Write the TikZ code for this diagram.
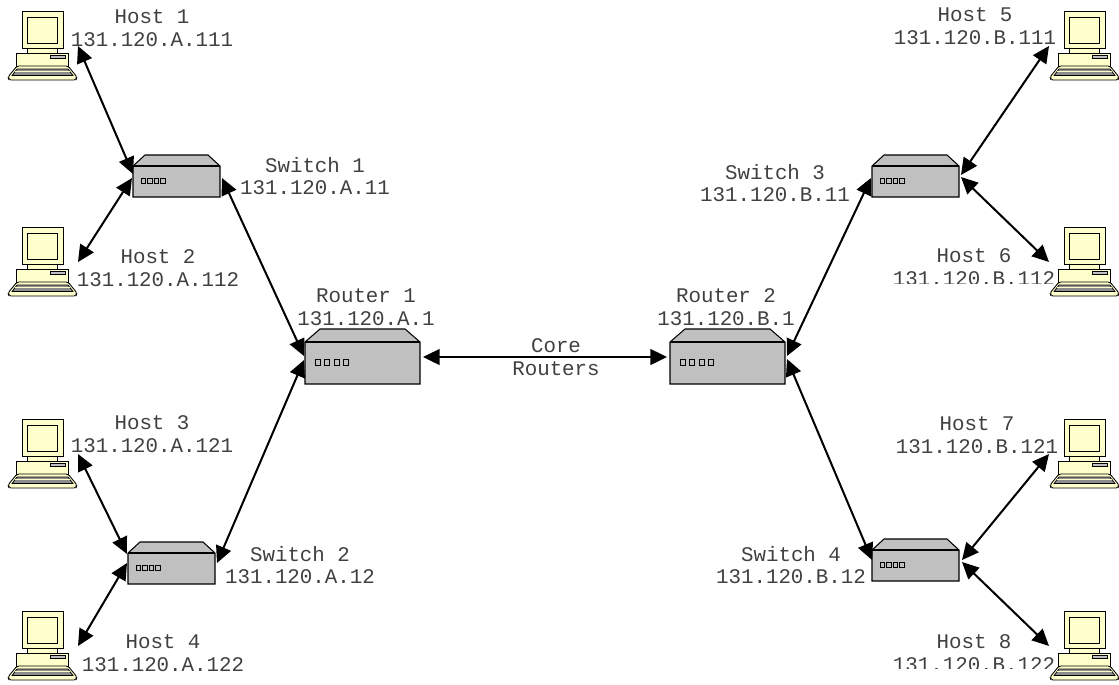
\documentclass[tikz,border=0pt]{standalone}
\usepackage{fontspec}
\setmonofont{Liberation Mono}
\usetikzlibrary{arrows.meta}

\definecolor{crt}{HTML}{FFFFCC}
\definecolor{box}{HTML}{C0C0C0}

\begin{document}
\begin{tikzpicture}[x=0.02cm,y=-0.02cm,
link/.style={line width=1.15pt,{Triangle[length=9.5pt,width=9pt]}-{Triangle[length=9.5pt,width=9pt]}},
lbl/.style={font=\fontsize{11.85}{13}\selectfont\ttfamily,align=center,inner sep=0pt,text=black!75},
hostpc/.pic={
  \draw[fill=crt,line width=0.5pt] (22,11) rectangle (63,48);
  \draw[fill=crt,line width=0.5pt] (27,17) rectangle (57,43);
  \draw[fill=crt,line width=0.5pt] (27,48) rectangle (57,53);
  \draw[fill=crt,line width=0.5pt] (16,53) rectangle (68,67);
  \draw[fill=box,line width=0.4pt] (50,55.5) rectangle (65,58.5);
  \draw[fill=crt,line width=0.5pt,rounded corners=1pt] (17,66) -- (68,66) -- (77,77) -- (76,80) -- (9,80) -- (8,77) -- cycle;
  \draw[fill=black!45,line width=0.4pt] (17,69) -- (68,69) -- (73,75.5) -- (12,75.5) -- cycle;
  \draw[crt,line width=0.4pt] (15,71.5) -- (70,71.5);
  \coordinate (-l) at (7,46);
  \coordinate (-r) at (78,46);
},
switchbox/.pic={
  \draw[fill=box,line width=0.6pt] (0,11) -- (12,0) -- (75,0) -- (87,11) -- (87,42) -- (0,42) -- cycle;
  \draw[line width=0.6pt] (0,11) -- (87,11);
  \foreach \i in {0,1,2,3} \draw[line width=0.5pt] (8+\i*6.5,23) rectangle +(4.5,5);
},
routerbox/.pic={
  \draw[fill=box,line width=0.6pt] (0,13) -- (15,0) -- (100,0) -- (115,13) -- (115,55) -- (0,55) -- cycle;
  \draw[line width=0.6pt] (0,13) -- (115,13);
  \foreach \i in {0,1,2,3} \draw[line width=0.5pt] (10+\i*9.5,30) rectangle +(5,6);
}]

\useasboundingbox (0,0) rectangle (1119,684);

% labels
\node[lbl] (t1) at (152,28) {Host 1\\131.120.A.111};
\node[lbl] (t2) at (158,268) {Host 2\\131.120.A.112};
\node[lbl] (t3) at (152,434) {Host 3\\131.120.A.121};
\node[lbl] (t4) at (163,653) {Host 4\\131.120.A.122};
\node[lbl] (t5) at (975,26) {Host 5\\131.120.B.111};
\begin{scope}
\clip (850,240) rectangle (1119,283);
\node[lbl] (t6) at (974,267) {Host 6\\131.120.B.112};
\end{scope}
\begin{scope}
\clip (850,410) rectangle (1119,452);
\node[lbl] (t7) at (977,435) {Host 7\\131.120.B.121};
\end{scope}
\begin{scope}
\clip (850,625) rectangle (1119,668);
\node[lbl] (t8) at (974,653) {Host 8\\131.120.B.122};
\end{scope}
\node[lbl] (ts1) at (315,176) {Switch 1\\131.120.A.11};
\node[lbl] (ts2) at (300,565) {Switch 2\\131.120.A.12};
\node[lbl] (ts3) at (775,183) {Switch 3\\131.120.B.11};
\node[lbl] (ts4) at (791,565) {Switch 4\\131.120.B.12};
\node[lbl] (tr1) at (366,307) {Router 1\\131.120.A.1};
\node[lbl] (tr2) at (726,307) {Router 2\\131.120.B.1};
\node[lbl] (core) at (556,357) {Core\\Routers};

% devices
\pic (h1) at (0,0) {hostpc};
\pic (h2) at (0,216) {hostpc};
\pic (h3) at (0,408) {hostpc};
\pic (h4) at (0,600) {hostpc};
\pic (h5) at (1042,0) {hostpc};
\pic (h6) at (1042,216) {hostpc};
\pic (h7) at (1042,408) {hostpc};
\pic (h8) at (1042,600) {hostpc};
\pic (s1) at (133,155) {switchbox};
\pic (s2) at (128,542) {switchbox};
\pic (s3) at (872,155) {switchbox};
\pic (s4) at (872,539) {switchbox};
\pic (r1) at (305,329) {routerbox};
\pic (r2) at (670,329) {routerbox};

% connector ends at the boxes
\coordinate (s1a) at (133,174);
\coordinate (s1b) at (132,178);
\coordinate (s1c) at (222,178);
\coordinate (s2a) at (127,554);
\coordinate (s2b) at (127,563);
\coordinate (s2c) at (217,563);
\coordinate (s3a) at (871,178);
\coordinate (s3b) at (961,175);
\coordinate (s3c) at (961,177);
\coordinate (s4a) at (872,560);
\coordinate (s4b) at (962,560);
\coordinate (s4c) at (962,562);
\coordinate (r1a) at (304,356);
\coordinate (r1b) at (304,360);
\coordinate (r1c) at (423,357);
\coordinate (r2a) at (667,357);
\coordinate (r2b) at (787,356);
\coordinate (r2c) at (787,359);

\draw[link] (h1-r) -- (s1a);
\draw[link] (h2-r) -- (s1b);
\draw[link] (s1c) -- (r1a);
\draw[link] (h3-r) -- (s2a);
\draw[link] (h4-r) -- (s2b);
\draw[link] (s2c) -- (r1b);
\draw[link] (r1c) -- (r2a);
\draw[link] (r2b) -- (s3a);
\draw[link] (r2c) -- (s4a);
\draw[link] (s3b) -- (h5-l);
\draw[link] (s3c) -- (h6-l);
\draw[link] (s4b) -- (h7-l);
\draw[link] (s4c) -- (h8-l);
\end{tikzpicture}
\end{document}
